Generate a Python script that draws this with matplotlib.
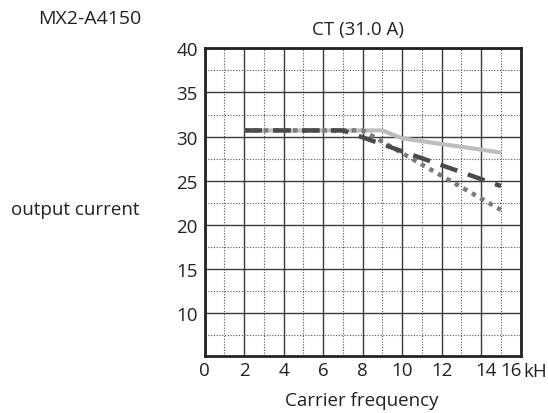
import matplotlib
matplotlib.use("Agg")
import matplotlib.pyplot as plt
import matplotlib.transforms as mtransforms

plt.rcParams['font.family'] = ['Open Sans', 'DejaVu Sans']

# data
gray_x = [2, 9, 10, 15]
gray_y = [30.7, 30.7, 29.8, 28.2]
dash_x = [2, 7, 15]
dash_y = [30.7, 30.7, 24.4]
dot_x = [2, 8, 15]
dot_y = [30.7, 30.7, 21.7]

xticks = [0, 2, 4, 6, 8, 10, 12, 14, 16]
yticks = [10, 15, 20, 25, 30, 35, 40]

fig = plt.figure(figsize=(5.48, 4.14), dpi=100)
ax = fig.add_axes([0.3735, 0.1384, 0.5767, 0.7426])
ax.set_xlim(0, 16)
ax.set_ylim(5.2, 40)

# grid
for x in range(0, 17):
    if x % 2 == 0:
        ax.axvline(x, color='#3a3a3a', lw=1.0, zorder=1)
    else:
        ax.axvline(x, color='#555555', lw=0.8, ls=(0, (1, 1.5)), zorder=1)
for y in [7.5, 12.5, 17.5, 22.5, 27.5, 32.5, 37.5]:
    ax.axhline(y, color='#555555', lw=0.8, ls=(0, (1, 1.5)), zorder=1)
for y in yticks:
    ax.axhline(y, color='#3a3a3a', lw=1.0, zorder=1)

ax.plot(gray_x, gray_y, color='#bdbdbd', lw=3.0, solid_capstyle='butt', zorder=3)
ax.plot(dot_x, dot_y, color='#7a7a7a', lw=3.2, ls=(0, (1, 1.2)), zorder=4)
ax.plot(dash_x, dash_y, color='#4a4a4a', lw=3.2, ls=(0, (4, 2.5)), zorder=5)

for s in ax.spines.values():
    s.set_linewidth(2.0)
    s.set_color('#222222')

ax.set_xticks(xticks)
ax.set_xticklabels([str(v) for v in xticks])
ax.set_yticks(yticks)
ax.set_yticklabels([str(v) for v in yticks])
ax.tick_params(length=0, labelsize=13.5, colors='#222222')
ax.tick_params(axis='x', pad=4)
ax.tick_params(axis='y', pad=5)
labs = ax.get_xticklabels()
off = mtransforms.ScaledTranslation(-10 / 100, 0, fig.dpi_scale_trans)
labs[-1].set_transform(labs[-1].get_transform() + off)
off2 = mtransforms.ScaledTranslation(5 / 100, 0, fig.dpi_scale_trans)
labs[-2].set_transform(labs[-2].get_transform() + off2)

fig.text(523 / 548, 1 - 372 / 414, 'kH', ha='left', va='center', fontsize=13.5, color='#222222')
fig.text(90 / 548, 1 - 19 / 414, 'MX2-A4150', ha='center', va='center', fontsize=14, color='#222222')
fig.text(358 / 548, 1 - 30 / 414, 'CT (31.0 A)', ha='center', va='center', fontsize=13.5, color='#222222')
fig.text(75 / 548, 1 - 210 / 414, 'output current', ha='center', va='center', fontsize=13.5, color='#222222')
fig.text(362 / 548, 1 - 401 / 414, 'Carrier frequency', ha='center', va='center', fontsize=13.5, color='#222222')

fig.savefig('out.png', dpi=100)
